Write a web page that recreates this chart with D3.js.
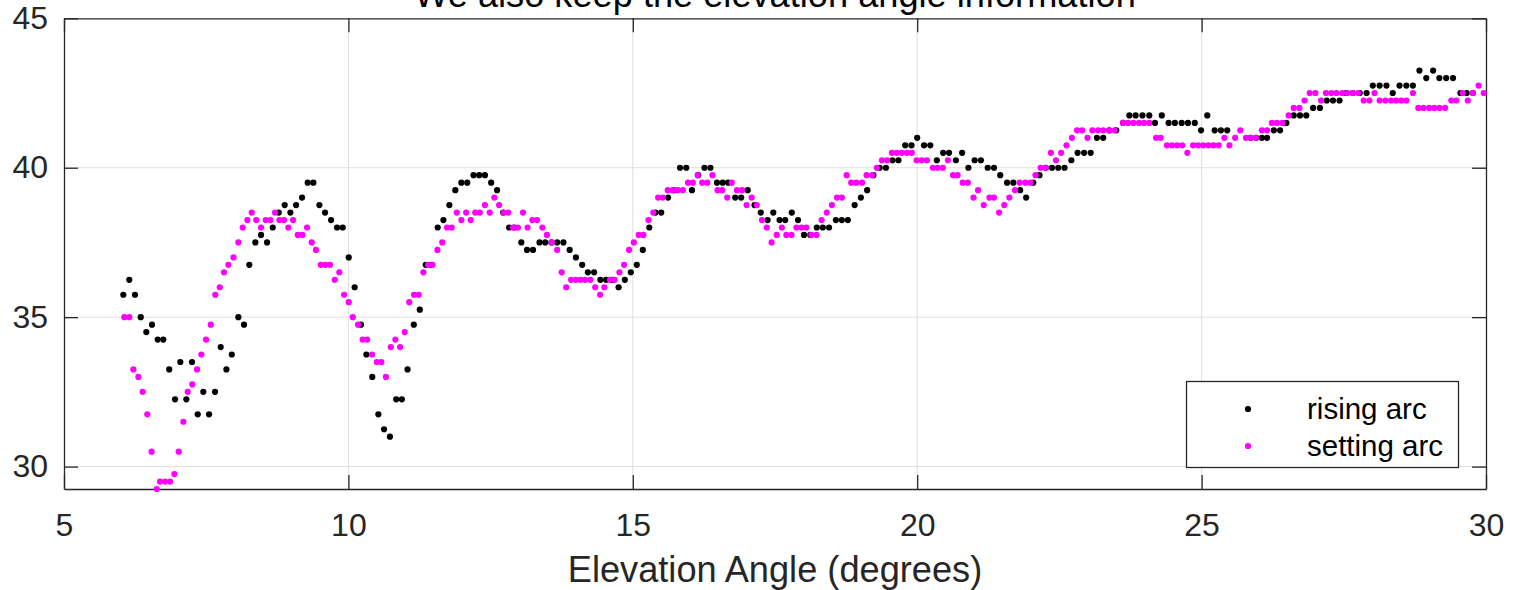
<!DOCTYPE html>
<html>
<head>
<meta charset="utf-8">
<script src="https://cdn.jsdelivr.net/npm/d3@7"></script>
<style>
  html, body { margin: 0; padding: 0; background: #fff; }
  svg { display: block; font-family: "Liberation Sans", Arial, Helvetica, sans-serif; }
</style>
</head>
<body>
<svg id="chart" width="1519" height="590"></svg>
<script>
// Rising arc: elevation angle (degrees) and measured value
const risingX = [6.043,6.148,6.248,6.349,6.447,6.547,6.648,6.746,6.85,6.952,7.045,7.151,7.251,7.351,7.449,7.55,7.655,7.755,7.855,7.95,
  8.065,8.165,8.258,8.364,8.464,8.57,8.67,8.775,8.88,8.98,9.08,9.185,9.285,9.384,9.49,9.59,9.695,9.80,9.90,10.006,
  10.11,10.22,10.316,10.42,10.527,10.627,10.73,10.84,10.94,11.04,11.15,11.255,11.36,11.46,11.57,11.67,11.775,11.88,11.986,12.09,
  12.2,12.3,12.4,12.51,12.614,12.72,12.825,12.92,13.04,13.14,13.246,13.36,13.46,13.57,13.67,13.78,13.89,14.0,14.11,14.21,
  14.32,14.43,14.53,14.64,14.75,14.86,14.965,15.07,15.176,15.29,15.40,15.50,15.62,15.72,15.83,15.94,16.04,16.15,16.26,16.365,
  16.48,16.58,16.676,16.80,16.905,17.02,17.14,17.25,17.37,17.47,17.58,17.68,17.795,17.905,18.01,18.12,18.235,18.34,18.45,18.57,
  18.675,18.78,18.9,19.01,19.12,19.23,19.34,19.45,19.565,19.67,19.79,19.9,20.0,20.12,20.23,20.345,20.456,20.56,20.68,20.79,
  20.9,21.01,21.12,21.24,21.35,21.46,21.58,21.69,21.81,21.915,22.04,22.15,22.26,22.37,22.48,22.59,22.71,22.82,22.935,23.05,
  23.16,23.27,23.38,23.5,23.62,23.73,23.84,23.96,24.08,24.18,24.3,24.42,24.53,24.65,24.76,24.88,24.99,25.1,25.23,25.34,
  25.45,25.86,25.96,26.06,26.15,26.27,26.38,26.49,26.62,26.73,26.84,26.96,27.08,27.2,27.31,27.425,27.54,27.66,27.78,27.9,
  28.01,28.13,28.25,28.36,28.48,28.6,28.715,28.83,28.95,29.07,29.18,29.3,29.42,29.55,29.66,29.77];
const risingY = [35.75,36.25,35.75,35.0,34.5,34.75,34.25,34.25,33.25,32.25,33.5,32.25,33.5,31.75,32.5,31.75,32.5,34.0,33.25,33.75,
  35.0,34.75,36.75,37.5,37.75,37.5,38.0,38.5,38.75,38.5,38.75,39.0,39.5,39.5,38.75,38.5,38.25,38.0,38.0,37.0,
  36.0,34.75,33.75,33.0,31.75,31.25,31.0,32.25,32.25,33.25,34.75,35.25,36.75,36.75,38.0,38.25,38.75,39.25,39.5,39.5,
  39.75,39.75,39.75,39.5,39.25,38.5,38.0,38.0,37.5,37.25,37.25,37.5,37.5,37.5,37.5,37.5,37.25,37.0,36.75,36.5,
  36.5,36.25,36.25,36.25,36.0,36.25,36.5,36.75,37.25,38.0,38.5,38.5,39.0,39.25,40.0,40.0,39.25,39.75,40.0,40.0,
  39.5,39.5,39.5,39.0,39.0,39.25,38.75,38.5,38.25,38.5,38.25,38.25,38.5,38.25,37.75,37.75,38.0,38.0,38.0,38.25,
  38.25,38.25,38.75,39.0,39.25,39.75,40.0,40.0,40.25,40.25,40.75,40.75,41.0,40.75,40.75,40.25,40.5,40.5,40.25,40.5,
  40.0,40.25,40.25,40.0,40.0,39.75,39.5,39.5,39.25,39.0,39.5,39.75,40.0,40.0,40.0,40.0,40.25,40.5,40.5,40.5,
  41.0,41.0,41.25,41.25,41.5,41.75,41.75,41.75,41.75,41.5,41.75,41.5,41.5,41.5,41.5,41.5,41.25,41.75,41.25,41.25,
  41.25,41.0,41.0,41.0,41.0,41.25,41.25,41.5,41.75,41.75,41.75,42.0,42.0,42.25,42.25,42.25,42.5,42.5,42.5,42.5,
  42.75,42.75,42.75,42.5,42.75,42.75,42.75,43.25,43.0,43.25,43.0,43.0,43.0,42.5,42.5,42.5];

// Setting arc
const settingX = [6.06,6.148,6.219,6.307,6.383,6.465,6.54,6.63,6.688,6.776,6.864,6.94,7.017,7.098,7.175,7.256,7.339,7.415,7.497,7.58,
  7.66,7.738,7.813,7.89,7.98,8.065,8.142,8.224,8.30,8.38,8.464,8.546,8.628,8.71,8.786,8.868,8.944,9.027,9.11,9.19,
  9.273,9.355,9.43,9.514,9.595,9.677,9.76,9.84,9.924,10.006,10.077,10.17,10.25,10.33,10.416,10.5,10.58,10.66,10.745,10.826,
  10.908,10.99,11.07,11.154,11.237,11.318,11.40,11.48,11.565,11.65,11.735,11.817,11.905,11.986,12.07,12.15,12.23,12.31,12.40,12.485,
  12.566,12.65,12.73,12.81,12.895,12.98,13.07,13.15,13.235,13.317,13.41,13.49,13.575,13.67,13.75,13.83,13.915,14.0,14.08,14.16,
  14.254,14.34,14.425,14.5,14.6,14.68,14.765,14.847,14.935,15.018,15.105,15.186,15.275,15.36,15.445,15.527,15.615,15.70,15.79,15.88,
  15.97,16.055,16.14,16.22,16.31,16.4,16.49,16.57,16.66,16.74,16.83,16.92,17.0,17.09,17.18,17.27,17.356,17.44,17.53,17.62,
  17.70,17.79,17.877,17.965,18.05,18.14,18.23,18.32,18.41,18.5,18.59,18.675,18.76,18.84,18.93,19.03,19.11,19.21,19.29,19.38,
  19.47,19.555,19.64,19.73,19.82,19.905,19.99,20.08,20.17,20.275,20.36,20.45,20.54,20.63,20.71,20.8,20.89,20.99,21.07,21.17,
  21.27,21.35,21.44,21.53,21.62,21.72,21.8,21.9,21.99,22.08,22.17,22.26,22.35,22.44,22.53,22.625,22.72,22.81,22.9,22.995,
  23.08,23.18,23.27,23.37,23.47,23.62,23.71,23.80,23.9,23.99,24.08,24.2,24.28,24.39,24.48,24.57,24.66,24.75,24.85,24.94,
  25.03,25.12,25.21,25.30,25.4,25.49,25.59,25.68,25.78,25.87,25.955,26.06,26.15,26.235,26.32,26.42,26.53,26.62,26.72,26.81,
  26.9,27.0,27.1,27.185,27.28,27.37,27.47,27.56,27.65,27.75,27.85,27.95,28.04,28.13,28.23,28.33,28.42,28.51,28.6,28.715,
  28.81,28.9,29.0,29.09,29.18,29.28,29.39,29.48,29.59,29.68,29.77,29.87,29.96];
const settingY = [35.0,35.0,33.25,33.0,32.5,31.75,30.5,29.25,29.5,29.5,29.5,29.75,30.5,31.5,32.5,32.75,33.25,33.75,34.25,34.75,
  35.75,36.0,36.5,36.75,37.0,37.5,38.0,38.25,38.5,38.25,38.0,38.25,38.25,38.5,38.25,38.25,38.0,38.25,37.75,37.75,
  38.0,37.5,37.25,36.75,36.75,36.75,36.25,36.5,35.75,35.5,35.0,34.75,34.25,34.25,33.75,33.5,33.5,33.0,34.0,34.25,
  34.0,34.5,35.5,35.75,35.75,36.5,36.75,36.75,37.25,37.5,38.0,38.0,38.5,38.25,38.5,38.25,38.5,38.5,38.75,38.5,
  39.0,38.75,38.5,38.5,38.0,38.0,38.5,38.0,38.25,38.25,38.0,37.75,37.5,37.25,36.5,36.0,36.25,36.25,36.25,36.25,
  36.25,36.0,35.75,36.0,36.25,36.25,36.5,36.75,37.25,37.5,37.75,37.75,38.25,38.5,39.0,39.0,39.25,39.25,39.25,39.25,
  39.5,39.5,39.75,39.5,39.5,39.75,39.25,39.25,39.0,39.5,39.25,39.25,38.75,39.0,38.75,38.25,38.0,37.5,37.75,38.0,
  37.75,37.75,38.0,38.0,38.0,37.75,37.75,38.25,38.5,38.75,39.0,39.0,39.75,39.5,39.5,39.5,39.75,39.75,40.0,40.25,
  40.25,40.5,40.5,40.5,40.5,40.5,40.25,40.25,40.25,40.0,40.0,40.0,40.25,39.75,39.75,39.5,39.5,39.0,39.25,38.75,
  39.0,39.0,38.5,38.75,39.0,39.25,39.5,39.5,39.5,39.75,40.0,40.0,40.5,40.25,40.5,40.75,41.0,41.25,41.25,41.0,
  41.25,41.25,41.25,41.25,41.25,41.5,41.5,41.5,41.5,41.5,41.5,41.0,41.0,40.75,40.75,40.75,40.75,40.5,40.75,40.75,
  40.75,40.75,40.75,40.75,41.0,40.75,41.0,41.25,41.0,41.0,41.0,41.25,41.25,41.5,41.5,41.5,41.75,42.0,42.0,42.25,
  42.5,42.5,42.25,42.5,42.5,42.5,42.5,42.5,42.5,42.5,42.25,42.25,42.5,42.25,42.25,42.25,42.25,42.25,42.25,42.5,
  42.0,42.0,42.0,42.0,42.0,42.0,42.25,42.25,42.5,42.25,42.5,42.75,42.5];

const xTicks = [5, 10, 15, 20, 25, 30];
const yTicks = [30, 35, 40, 45];
const seriesNames = ["rising arc", "setting arc"];
const seriesColors = ["#000000", "#ff00ff"];
const titleText = "We also keep the elevation angle information";
const xLabelText = "Elevation Angle (degrees)";

(function draw() {
  const svg = d3.select("#chart");
  const mLeft = 64, mRight = 1486, mTop = 18.3, mBottom = 489;

  const x = d3.scaleLinear().domain([5, 30]).range([mLeft, mRight]);
  const y = d3.scaleLinear().domain([29.25, 45]).range([mBottom, mTop]);

  const axisColor = "#262626";
  const gridColor = "#dfdfdf";

  // grid
  const grid = svg.append("g");
  grid.selectAll("line.vx").data(xTicks.filter(d => d > 5 && d < 30)).join("line")
    .attr("x1", d => x(d)).attr("x2", d => x(d)).attr("y1", mTop).attr("y2", mBottom)
    .attr("stroke", gridColor).attr("stroke-width", 1);
  grid.selectAll("line.hy").data(yTicks.filter(d => d < 45)).join("line")
    .attr("x1", mLeft).attr("x2", mRight).attr("y1", d => y(d)).attr("y2", d => y(d))
    .attr("stroke", gridColor).attr("stroke-width", 1);

  // axes with inward ticks on all four sides
  const tickLen = 14;
  const fmt = d3.format("d");
  function styleAxis(g) {
    g.selectAll("path.domain").attr("stroke", axisColor).attr("stroke-width", 1.3);
    g.selectAll(".tick line").attr("stroke", axisColor).attr("stroke-width", 1.3);
    g.selectAll(".tick text").attr("fill", axisColor).attr("font-size", 32)
      .attr("font-family", "'Liberation Sans', Arial, sans-serif");
  }
  svg.append("g").attr("transform", `translate(0,${mBottom})`)
    .call(d3.axisBottom(x).tickValues(xTicks).tickFormat(fmt).tickSizeInner(-tickLen).tickSizeOuter(0).tickPadding(24))
    .call(styleAxis);
  svg.append("g").attr("transform", `translate(0,${mTop})`)
    .call(d3.axisTop(x).tickValues(xTicks).tickFormat("").tickSizeInner(-tickLen).tickSizeOuter(0))
    .call(styleAxis);
  svg.append("g").attr("transform", `translate(${mLeft},0)`)
    .call(d3.axisLeft(y).tickValues(yTicks).tickFormat(fmt).tickSizeInner(-tickLen).tickSizeOuter(0).tickPadding(16))
    .call(styleAxis);
  svg.append("g").attr("transform", `translate(${mRight},0)`)
    .call(d3.axisRight(y).tickValues(yTicks).tickFormat("").tickSizeInner(-tickLen).tickSizeOuter(0))
    .call(styleAxis);

  // series points
  const rising = risingX.map((v, i) => ({ x: v, y: risingY[i] }));
  const setting = settingX.map((v, i) => ({ x: v, y: settingY[i] }));
  [rising, setting].forEach((data, k) => {
    svg.append("g").selectAll("circle").data(data).join("circle")
      .attr("cx", d => x(d.x)).attr("cy", d => y(d.y)).attr("r", 3.1)
      .attr("fill", seriesColors[k]);
  });

  // title (sits partly above the canvas)
  svg.append("text").attr("x", (mLeft + mRight) / 2).attr("y", 7)
    .attr("text-anchor", "middle").attr("font-size", 36.2).attr("fill", "#000")
    .text(titleText);

  // x label
  svg.append("text").attr("x", (mLeft + mRight) / 2).attr("y", 582)
    .attr("text-anchor", "middle").attr("font-size", 36.2).attr("fill", axisColor)
    .text(xLabelText);

  // legend
  const lg = svg.append("g");
  lg.append("rect").attr("x", 1186.5).attr("y", 381.5).attr("width", 272).attr("height", 86)
    .attr("fill", "#fff").attr("stroke", axisColor).attr("stroke-width", 1.3);
  seriesNames.forEach((name, k) => {
    const cy = 409 + k * 37;
    lg.append("circle").attr("cx", 1248).attr("cy", cy).attr("r", 3.1).attr("fill", seriesColors[k]);
    lg.append("text").attr("x", 1307).attr("y", cy + 10).attr("font-size", 29.5).attr("fill", "#000").text(name);
  });
})();
</script>
</body>
</html>
